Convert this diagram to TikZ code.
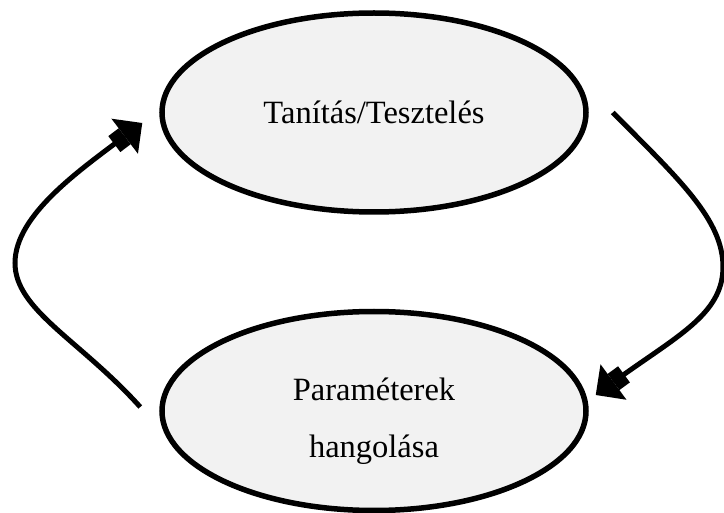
\documentclass[tikz,border=0pt]{standalone}
\usepackage{fontspec}
\setmainfont{Liberation Serif}
\usetikzlibrary{shapes.geometric,arrows.meta,calc}
\definecolor{stagefill}{RGB}{242,242,242}
\begin{document}
\begin{tikzpicture}[x=1pt,y=-1pt,
  stage/.style={ellipse, draw=black, line width=5.5pt, fill=stagefill,
    minimum width=424pt, minimum height=199pt, inner sep=0pt,
    font=\fontsize{32.5}{57}\selectfont},
  cycle/.style={line width=5pt,
    -{Rectangle[length=13pt,width=20pt,sep=0pt,line width=0pt]Triangle[length=22pt,width=44pt,line width=0pt]}}]
  \useasboundingbox (0,0) rectangle (724,513);

  % the two stages of the loop
  \node[stage] (top) at (374,112.5) {Tanítás/Tesztelés};
  \node[stage] (bot) at (374,411)
    {\raisebox{-7pt}[\height][\depth]{\begin{tabular}{@{}c@{}}Paraméterek\\hangolása\end{tabular}}};

  % connector ends next to the ellipses
  \coordinate (r1) at ($(top.east)+(24,0)$);
  \coordinate (r2) at ($(bot.east)+(7,-16)$);
  \coordinate (l1) at ($(bot.west)+(-19,-4)$);
  \coordinate (l2) at ($(top.west)+(-17,10.5)$);

  % right-hand arc: training/testing -> parameter tuning
  \draw[cycle] (r1) .. controls (680,180) and (723,220) .. (723,267)
                    .. controls (723,315) and (675,337) .. (r2);
  % left-hand arc: parameter tuning -> training/testing
  \draw[cycle] (l1) .. controls (80,340) and (15,310) .. (15,263)
                    .. controls (15,215) and (80,170) .. (l2);
\end{tikzpicture}
\end{document}
